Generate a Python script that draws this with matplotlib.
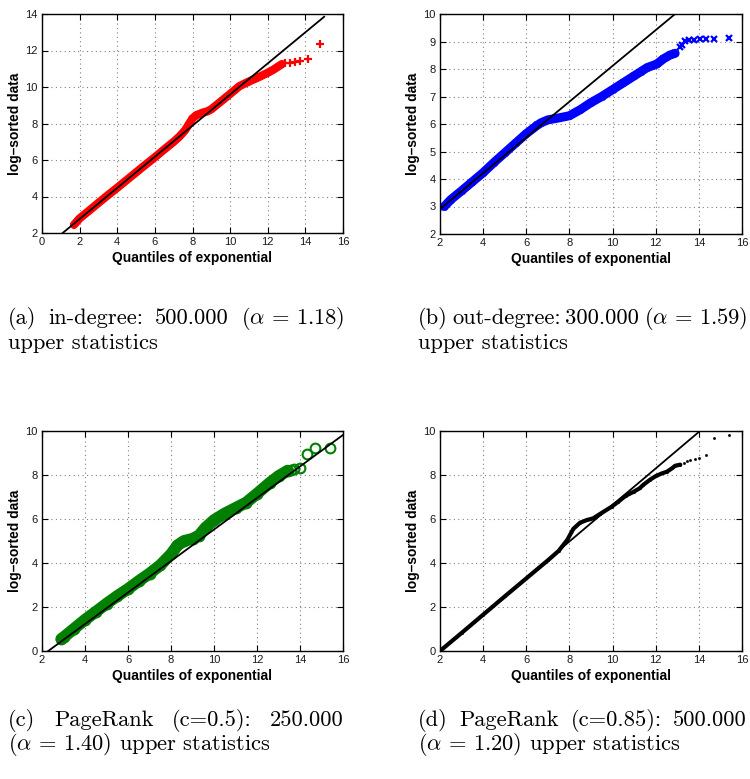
import matplotlib
matplotlib.use('Agg')
import matplotlib.pyplot as plt

plt.rcParams['mathtext.fontset'] = 'cm'
plt.rcParams['axes.unicode_minus'] = False

# ---------------- data ----------------
# (a) in-degree
a_x = [1.7, 2.0, 2.5, 3.0, 3.5, 4.0, 4.5, 5.0, 5.5, 6.0, 6.5, 7.0, 7.3, 7.6, 7.8, 8.0,
       8.2, 8.5, 8.8, 9.0, 9.5, 10.0, 10.5, 11.0, 11.5, 12.0, 12.3, 12.55, 12.75]
a_y = [2.45, 2.8, 3.22, 3.65, 4.07, 4.48, 4.9, 5.32, 5.74, 6.15, 6.58, 7.0, 7.28, 7.62, 7.95, 8.28,
       8.45, 8.58, 8.67, 8.78, 9.2, 9.62, 10.05, 10.3, 10.53, 10.78, 10.95, 11.12, 11.25]
a_tail_x = [12.93, 13.16, 13.43, 13.73, 14.14, 14.76]
a_tail_y = [11.3, 11.34, 11.37, 11.42, 11.55, 12.37]
a_ref_x = [1.1, 15.0]
a_ref_y = [2.0, 13.85]

# (b) out-degree
b_x = [2.2, 2.5, 3.0, 3.5, 4.0, 4.5, 5.0, 5.5, 6.0, 6.5, 6.7, 7.0, 7.5, 8.0, 8.5, 9.0, 9.5,
       10.0, 10.5, 11.0, 11.3, 11.6, 12.05, 12.36, 12.67, 12.9]
b_y = [3.0, 3.25, 3.57, 3.9, 4.23, 4.6, 4.95, 5.3, 5.65, 5.95, 6.05, 6.15, 6.22, 6.3, 6.52, 6.78, 7.0,
       7.25, 7.5, 7.75, 7.9, 8.05, 8.18, 8.37, 8.51, 8.57]
b_tail_x = [13.11, 13.22, 13.38, 13.54, 13.77, 14.05, 14.31, 14.7, 15.41]
b_tail_y = [8.79, 8.88, 9.01, 9.06, 9.07, 9.1, 9.1, 9.1, 9.12]
b_ref_x = [2.0, 12.9]
b_ref_y = [2.91, 10.0]

# (c) PageRank c=0.5
c_x = [2.9, 3.0, 3.5, 4.0, 4.5, 5.0, 5.5, 6.0, 6.5, 7.0, 7.5, 8.0, 8.3, 8.6, 9.0, 9.3, 9.6,
       10.0, 10.5, 11.0, 11.5, 12.0, 12.6, 13.0, 13.43]
c_y = [0.55, 0.62, 1.02, 1.42, 1.78, 2.15, 2.5, 2.82, 3.18, 3.52, 3.9, 4.4, 4.8, 5.0, 5.1, 5.25, 5.6,
       5.95, 6.25, 6.5, 6.75, 7.15, 7.65, 7.95, 8.2]
c_tail_x = [13.58, 13.73, 14.01, 14.31, 14.7, 15.4]
c_tail_y = [8.23, 8.26, 8.3, 8.94, 9.24, 9.25]
c_ref_x = [2.29, 16.0]
c_ref_y = [0.0, 9.82]

# (d) PageRank c=0.85
d_x = [2.0, 3.0, 4.0, 5.0, 6.0, 7.0, 7.5, 7.7, 7.9, 8.18, 8.49, 8.8, 9.1, 9.42, 9.96, 10.27,
       10.6, 11.0, 11.26, 11.42, 11.73, 12.0, 12.28, 12.52, 12.75, 12.9, 13.14]
d_y = [0.0, 0.82, 1.65, 2.48, 3.3, 4.12, 4.55, 4.8, 5.05, 5.55, 5.83, 5.95, 6.03, 6.23, 6.56, 6.79,
       7.05, 7.25, 7.4, 7.55, 7.78, 7.95, 8.07, 8.15, 8.3, 8.42, 8.47]
d_tail_x = [13.3, 13.45, 13.61, 13.81, 14.0, 14.31, 14.7, 15.41]
d_tail_y = [8.55, 8.62, 8.68, 8.73, 8.77, 8.92, 9.68, 9.83]
d_ref_x = [2.0, 14.05]
d_ref_y = [0.0, 10.0]

x_label = 'Quantiles of exponential'
y_label = 'log\u2013sorted data'

captions = [
    [["(a)", "in-degree:", "500.000", r"$(\alpha\,=\,1.18)$"], ["upper statistics"]],
    [["(b)", "out-degree:", "300.000", r"$(\alpha\,=\,1.59)$"], ["upper statistics"]],
    [["(c)", "PageRank", "(c=0.5):", "250.000"], [r"$(\alpha\,=\,1.40)$ upper statistics"]],
    [["(d)", "PageRank", "(c=0.85):", "500.000"], [r"$(\alpha\,=\,1.20)$ upper statistics"]],
]

# ---------------- layout ----------------
W, H = 750, 779
fig = plt.figure(figsize=(W / 100, H / 100), dpi=100)

def rect(l, t, r, b):
    return [l / W, 1 - b / H, (r - l) / W, (b - t) / H]

panels = [
    dict(rect=rect(42, 14, 343, 233), x=a_x, y=a_y, tx=a_tail_x, ty=a_tail_y, rx=a_ref_x, ry=a_ref_y,
         xlim=(0, 16), ylim=(2, 14), xt=range(0, 17, 2), yt=range(2, 15, 2),
         color='#ff0000', marker='+', ms=6, mew=1.6, lw=6),
    dict(rect=rect(440, 14, 742, 234), x=b_x, y=b_y, tx=b_tail_x, ty=b_tail_y, rx=b_ref_x, ry=b_ref_y,
         xlim=(2, 16), ylim=(2, 10), xt=range(2, 17, 2), yt=range(2, 11, 1),
         color='#0000ff', marker='x', ms=5, mew=1.6, lw=6.5),
    dict(rect=rect(42, 431, 343, 651), x=c_x, y=c_y, tx=c_tail_x, ty=c_tail_y, rx=c_ref_x, ry=c_ref_y,
         xlim=(2, 16), ylim=(0, 10), xt=range(2, 17, 2), yt=range(0, 11, 2),
         color='#008000', marker='o', ms=7, mew=1.5, lw=8.5),
    dict(rect=rect(440, 431, 742, 651), x=d_x, y=d_y, tx=d_tail_x, ty=d_tail_y, rx=d_ref_x, ry=d_ref_y,
         xlim=(2, 16), ylim=(0, 10), xt=range(2, 17, 2), yt=range(0, 11, 2),
         color='#000000', marker='.', ms=3, mew=0.5, lw=3.0),
]

tick_font = 'Liberation Sans'
for p in panels:
    ax = fig.add_axes(p['rect'])
    ax.plot(p['x'], p['y'], color=p['color'], lw=p['lw'], solid_capstyle='round', zorder=2)
    ax.plot(p['x'], p['y'], ls='none', marker=p['marker'], ms=p['ms'], mew=p['mew'],
            mec=p['color'], mfc='none' if p['marker'] == 'o' else p['color'], zorder=2)
    ax.plot(p['tx'], p['ty'], ls='none', marker=p['marker'], ms=p['ms'], mew=p['mew'],
            mec=p['color'], mfc='none' if p['marker'] == 'o' else p['color'], zorder=2)
    ax.plot(p['rx'], p['ry'], color='black', lw=1.3, zorder=3)
    ax.set_xlim(*p['xlim'])
    ax.set_ylim(*p['ylim'])
    ax.set_xticks(list(p['xt']))
    ax.set_yticks(list(p['yt']))
    ax.grid(True, linestyle=(0, (1, 3)), color='#808080', lw=0.8)
    ax.set_axisbelow(True)
    ax.tick_params(direction='in', top=True, right=True, length=4, width=0.8,
                   labelsize=8, pad=3)
    for lab in ax.get_xticklabels() + ax.get_yticklabels():
        lab.set_fontfamily(tick_font)
        lab.set_color('#1a1a1a')
    for s in ax.spines.values():
        s.set_linewidth(1.0)
    ax.set_xlabel(x_label, fontfamily=tick_font, fontweight='bold', fontsize=9.9)
    ax.set_ylabel(y_label, fontfamily=tick_font, fontweight='bold', fontsize=9.9)
    ax.xaxis.set_label_coords(0.5, -0.08)
    ax.yaxis.set_label_coords(-0.065, 0.5)

# ---------------- captions (justified first lines) ----------------
cap_fs = 16.2
renderer = fig.canvas.get_renderer()

def place_line(words, x0, x1, y, justify):
    texts = [fig.text(0, 1 - y / H, w, fontsize=cap_fs, family='cmr10', va='center', ha='left')
             for w in words]
    widths = [t.get_window_extent(renderer).width for t in texts]
    if justify and len(words) > 1:
        gap = max(((x1 - x0) - sum(widths)) / (len(words) - 1), 2)
    else:
        gap = 0
    x = x0
    for t, w in zip(texts, widths):
        t.set_x(x / W)
        x += w + gap

cap_pos = [(8, 344, 318), (418, 747, 318), (8, 344, 720), (418, 747, 720)]
for (x0, x1, y), (line1, line2) in zip(cap_pos, captions):
    place_line(line1, x0, x1, y, True)
    place_line(line2, x0, x1, y + 25, False)

fig.savefig('out.png', dpi=100)
